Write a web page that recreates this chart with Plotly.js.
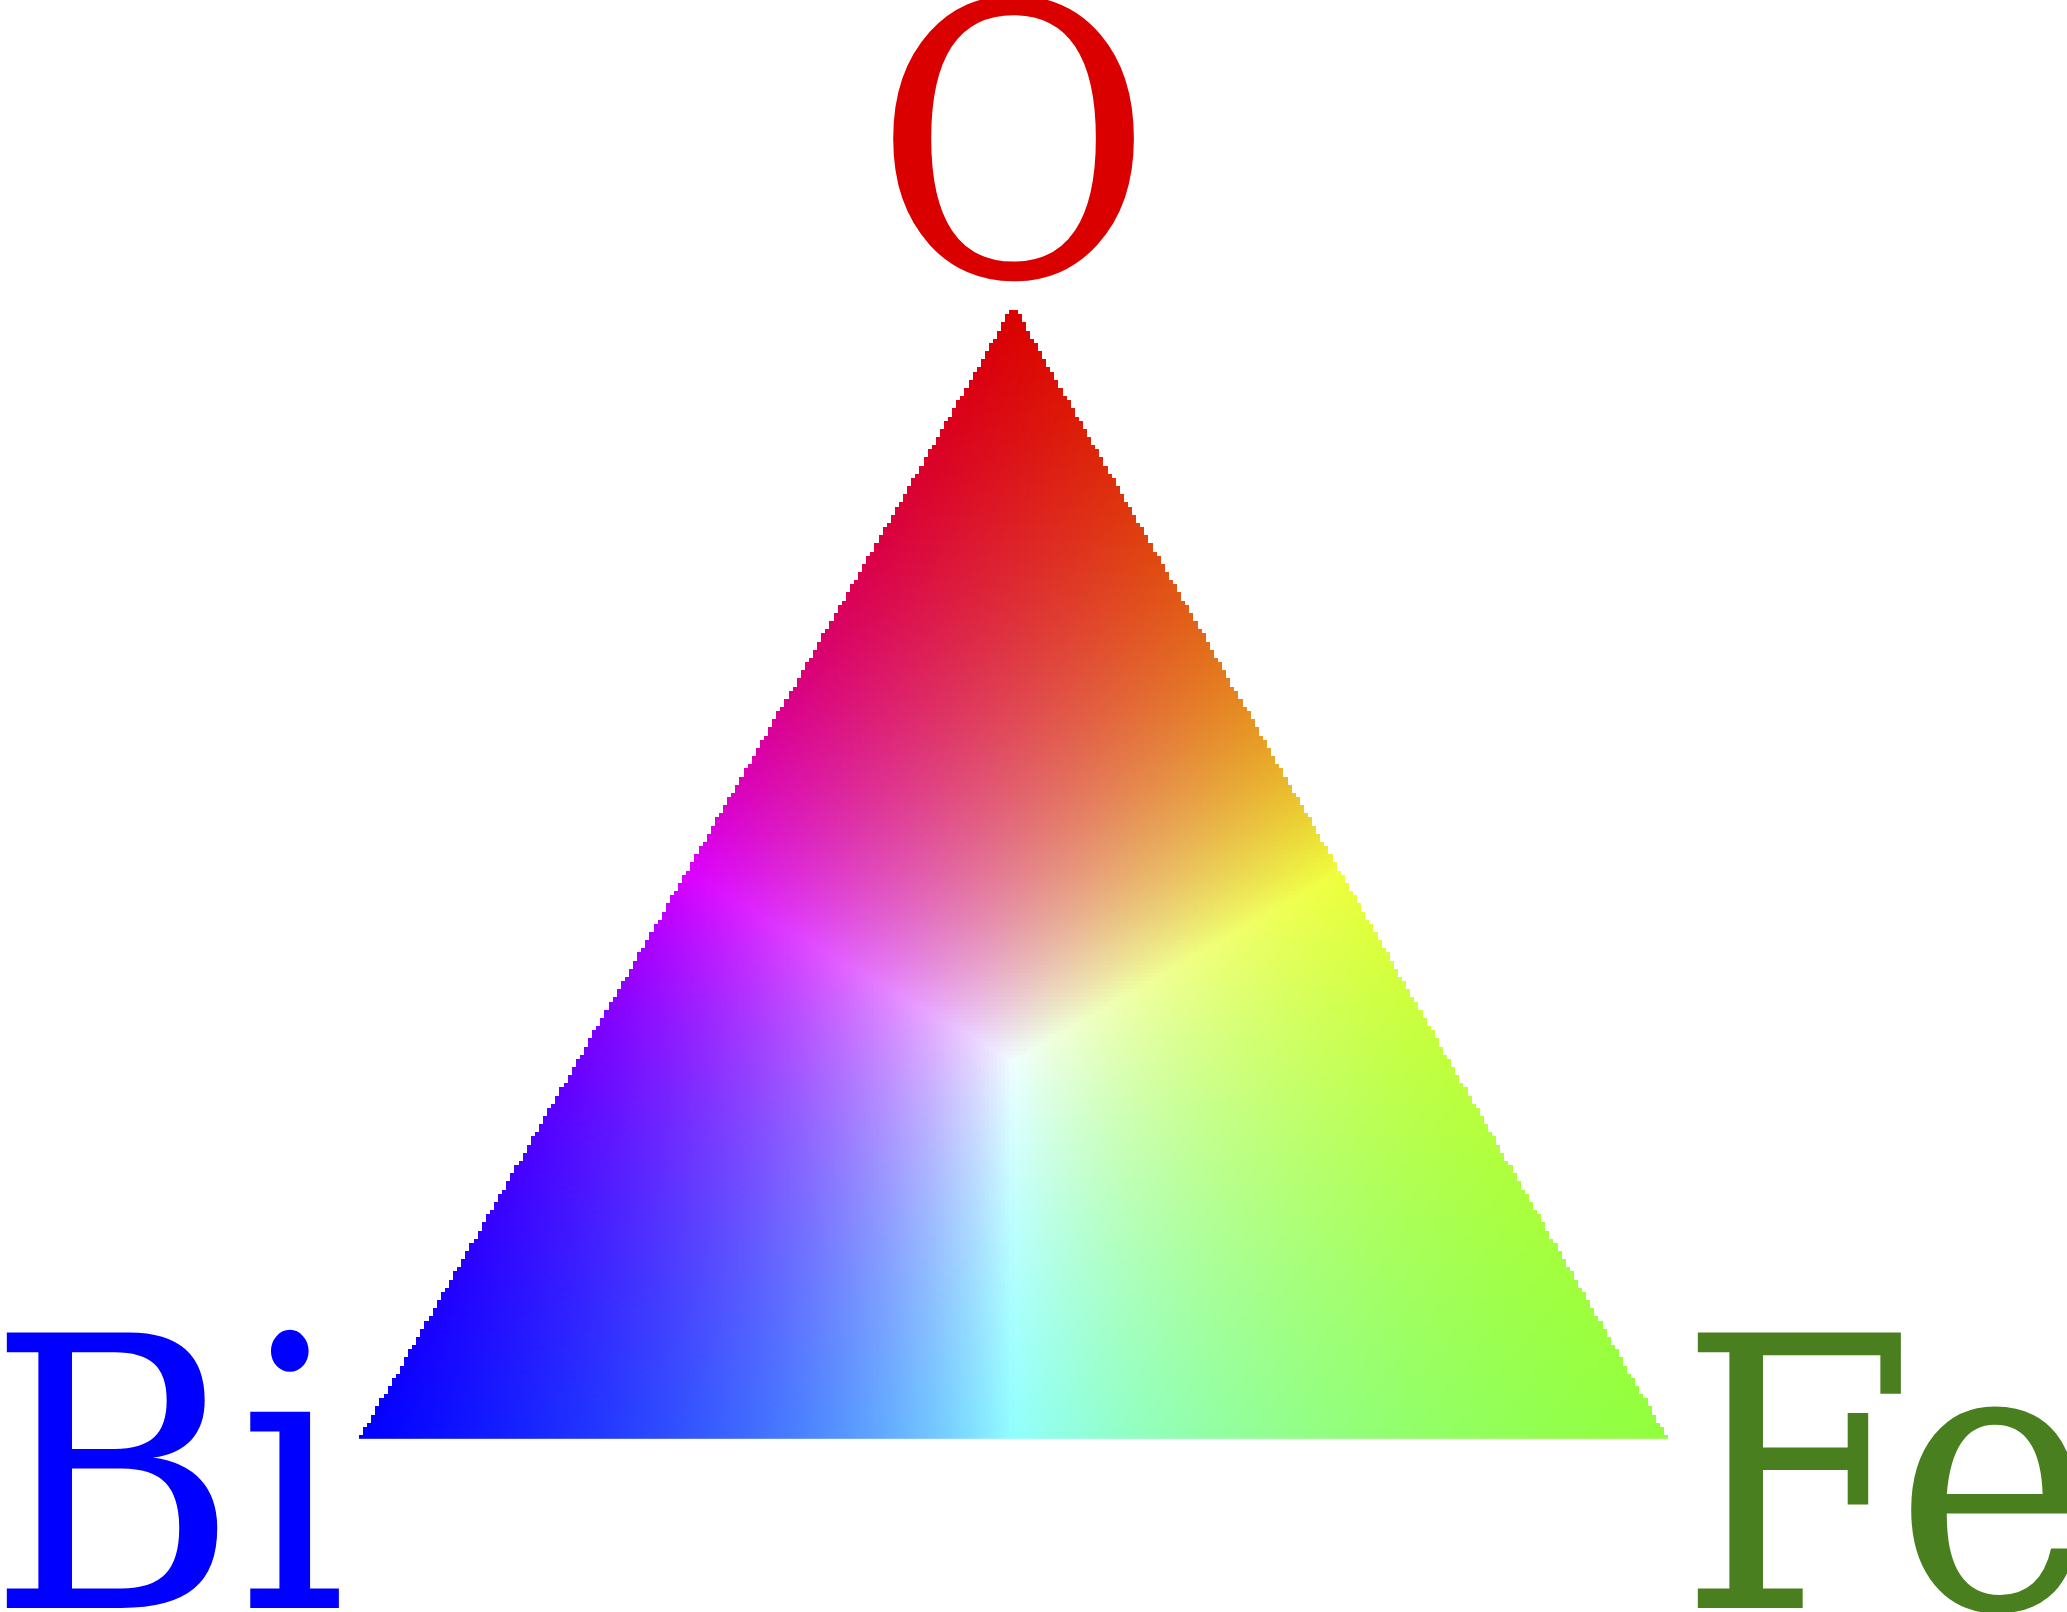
<!DOCTYPE html>
<html>
<head>
<meta charset="utf-8">
<script src="https://cdn.plot.ly/plotly-3.0.1.min.js"></script>
<style>
  html, body { margin: 0; padding: 0; background: #ffffff; }
  #chart { width: 2067px; height: 1612px; }
</style>
</head>
<body>
<div id="chart"></div>
<script>
// corners of the composition triangle: Bi bottom-left, Fe bottom-right, O top
const elements    = ['Bi', 'Fe', 'O'];
const cornerRGB   = [[0, 0, 255], [145, 255, 60], [218, 0, 0]];
const labelColors = ['#0000ff', '#4a7f1f', '#da0000'];

const GRID_N = 320;            // cells along the base of the triangle
const H = Math.sqrt(3) / 2;    // triangle height in base units

// colour of one composition: fractions scaled by their max, then the corner
// colours are "screened" together so the centre goes to white
function mixColour(frac) {
  const m = Math.max(...frac);
  const inv = [1, 1, 1];
  frac.forEach((f, k) => {
    for (let c = 0; c < 3; c++) inv[c] *= 1 - (f / m) * cornerRGB[k][c] / 255;
  });
  return inv.map(v => Math.round(255 * (1 - v)));
}

function buildImage() {
  const d = 1 / GRID_N;
  const rows = Math.ceil(H / d);
  const z = [];
  for (let r = 0; r < rows; r++) {
    const y = (r + 0.5) * d;
    const row = [];
    for (let c = 0; c < GRID_N; c++) {
      const x = (c + 0.5) * d;
      const fO = y / H;
      const fFe = x - 0.5 * fO;
      const fBi = 1 - fO - fFe;
      if (fO < 0 || fFe < 0 || fBi < 0) { row.push([255, 255, 255, 0]); continue; }
      row.push([...mixColour([fBi, fFe, fO]), 1]);
    }
    z.push(row);
  }
  return { z, d };
}

const img = buildImage();

const traces = [{
  type: 'image',
  z: img.z,
  colormodel: 'rgba',
  x0: img.d / 2, dx: img.d,
  y0: img.d / 2, dy: img.d,
  hoverinfo: 'skip',
}];

const _FONT = 'DejaVu Serif Condensed, DejaVu Serif, serif';

function _label(i, pos) {
  return {
    text: elements[i],
    showarrow: false,
    font: { family: _FONT, size: 378, color: labelColors[i] },
    ...pos,
  };
}

const _hidden = { visible: false, showgrid: false, zeroline: false, fixedrange: true };

const layout = {
  width: 2067, height: 1612,
  margin: { t: 0, r: 0, b: 0, l: 0 },
  paper_bgcolor: '#ffffff',
  plot_bgcolor: '#ffffff',
  showlegend: false,
  xaxis: { ..._hidden, range: [-0.27426, 1.30481] },
  yaxis: { ..._hidden, range: [-0.13216, 1.09931], autorange: false },
  annotations: [
    _label(0, { xref: 'paper', yref: 'paper', x: 0, y: 0.2215, xanchor: 'left', yanchor: 'top', xshift: -14 }),
    _label(1, { xref: 'paper', yref: 'paper', x: 0.8123, y: 0.2215, xanchor: 'left', yanchor: 'top', xshift: -2 }),
    _label(2, { xref: 'x', yref: 'paper', x: 0.5, y: 1.0478, xanchor: 'center', yanchor: 'top' }),
  ],
};

Plotly.newPlot('chart', traces, layout, { displayModeBar: false, staticPlot: true });
</script>
</body>
</html>
